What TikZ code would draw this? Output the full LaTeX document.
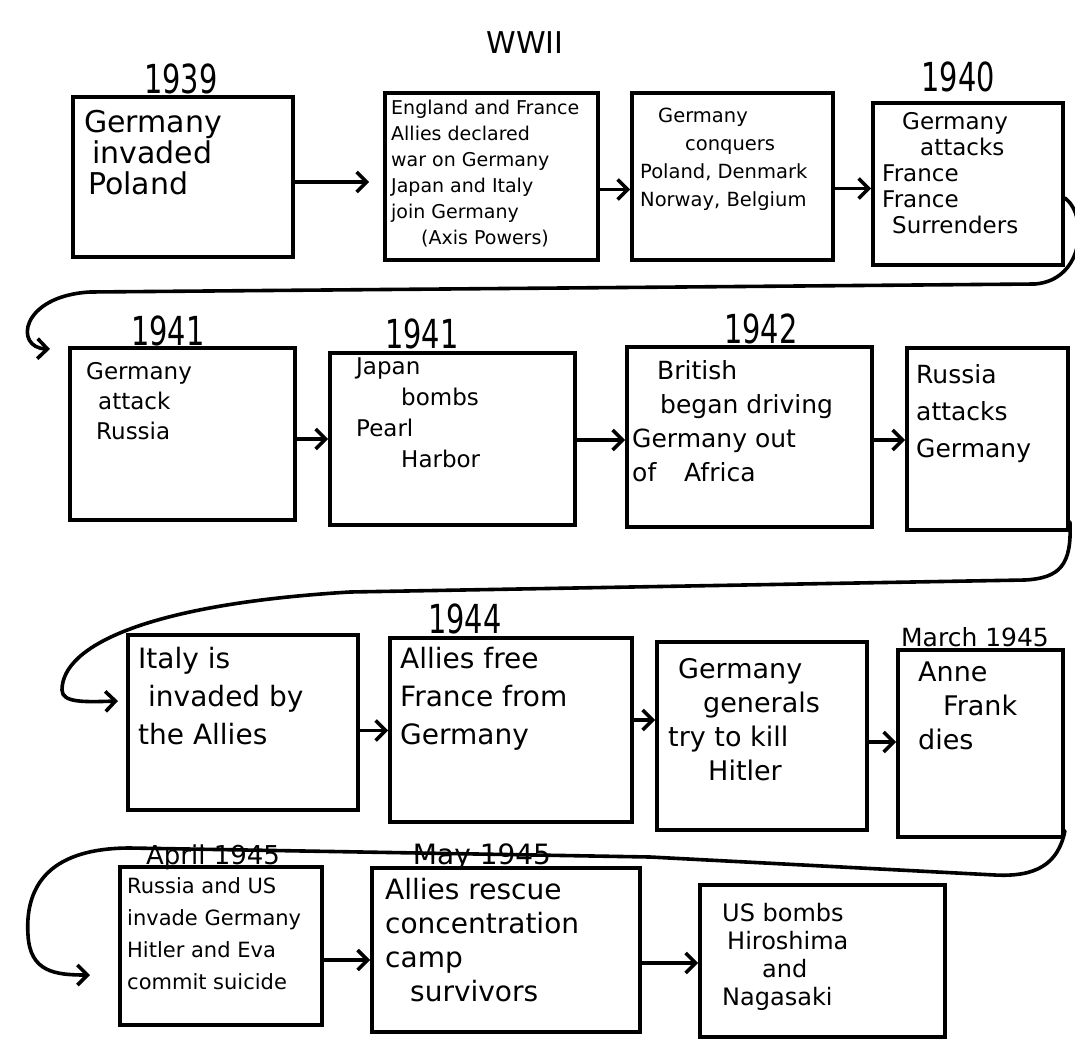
\documentclass[tikz,border=0pt]{standalone}
\usepackage{fontspec}
\setmainfont{DejaVu Sans}
\usetikzlibrary{arrows.meta}
\begin{document}
\begin{tikzpicture}[x=1pt,y=-1pt,
  event/.style={draw=black, line width=3.8pt, inner sep=0pt},
  note/.style={anchor=north west, align=left, inner sep=0pt},
  year/.style={anchor=base, inner sep=0pt},
  flow/.style={line width=3.6pt, line cap=round, line join=round,
               -{Straight Barb[length=10pt,width=20pt]}}]
\useasboundingbox (0,0) rectangle (1075,1044);
\fill[white] (0,0) rectangle (1075,1044);

% title
\node[year, font=\fontsize{30}{30}\selectfont] (title) at (525,53) {WWII};

% ---- event boxes ----
\node[event, minimum width=220pt, minimum height=160pt] (b1)  at (183,177)   {};
\node[event, minimum width=213pt, minimum height=167pt] (b2)  at (491.5,176.5) {};
\node[event, minimum width=201pt, minimum height=167pt] (b3)  at (732.5,176.5) {};
\node[event, minimum width=190pt, minimum height=162pt] (b4)  at (968,184)   {};
\node[event, minimum width=225pt, minimum height=172pt] (b5)  at (182.5,434) {};
\node[event, minimum width=245pt, minimum height=172pt] (b6)  at (452.5,439) {};
\node[event, minimum width=245pt, minimum height=180pt] (b7)  at (749.5,437) {};
\node[event, minimum width=161pt, minimum height=182pt] (b8)  at (987.5,439) {};
\node[event, minimum width=230pt, minimum height=175pt] (b9)  at (243,722.5) {};
\node[event, minimum width=242pt, minimum height=184pt] (b10) at (511,730)   {};
\node[event, minimum width=210pt, minimum height=188pt] (b11) at (762,736)   {};
\node[event, minimum width=165pt, minimum height=187pt] (b12) at (980.5,743.5) {};
\node[event, minimum width=202pt, minimum height=158pt] (b13) at (221,946)   {};
\node[event, minimum width=268pt, minimum height=164pt] (b14) at (506,950)   {};
\node[event, minimum width=245pt, minimum height=152pt] (b15) at (822.5,961) {};

% ---- years ----
\node[year, font=\fontsize{40}{40}\selectfont] (y1) at (181,93)  {\scalebox{0.72}[1]{1939}};
\node[year, font=\fontsize{40}{40}\selectfont] (y2) at (958,91)  {\scalebox{0.72}[1]{1940}};
\node[year, font=\fontsize{40}{40}\selectfont] (y3) at (168,345) {\scalebox{0.72}[1]{1941}};
\node[year, font=\fontsize{40}{40}\selectfont] (y4) at (422,348) {\scalebox{0.72}[1]{1941}};
\node[year, font=\fontsize{40}{40}\selectfont] (y5) at (761,343) {\scalebox{0.72}[1]{1942}};
\node[year, font=\fontsize{40}{40}\selectfont] (y6) at (465,633) {\scalebox{0.72}[1]{1944}};
\node[year, font=\fontsize{25}{25}\selectfont] (y7) at (975,646) {March 1945};
\node[year, font=\fontsize{26}{26}\selectfont] (y8) at (213,864) {April 1945};
\node[year, font=\fontsize{28}{28}\selectfont] (y9) at (482,864) {May 1945};

% ---- box texts ----
\node[note, font=\fontsize{30}{31}\selectfont] (t1) at (84,110)
  {Germany\\\hspace*{8pt}invaded\\\hspace*{4pt}Poland};
\node[note, font=\fontsize{19}{26}\selectfont] (t2) at (391,100)
  {England and France\\Allies declared\\war on Germany\\Japan and Italy\\join Germany\\\hspace*{30pt}(Axis Powers)};
\node[note, font=\fontsize{19.5}{28}\selectfont] (t3) at (640,108)
  {\hspace*{18pt}Germany\\\hspace*{45pt}conquers\\Poland, Denmark\\Norway, Belgium};
\node[note, font=\fontsize{23}{26}\selectfont] (t4) at (882,112)
  {\hspace*{20pt}Germany\\\hspace*{38pt}attacks\\France\\France\\\hspace*{10pt}Surrenders};
\node[note, font=\fontsize{23}{30}\selectfont] (t5) at (86,362)
  {Germany\\\hspace*{12pt}attack\\\hspace*{10pt}Russia};
\node[note, font=\fontsize{23}{31}\selectfont] (t6) at (356,358)
  {Japan\\\hspace*{45pt}bombs\\Pearl\\\hspace*{45pt}Harbor};
\node[note, font=\fontsize{25}{34}\selectfont] (t7) at (632,360)
  {\hspace*{25pt}British\\\hspace*{28pt}began driving\\Germany out\\of\hspace*{20pt} Africa};
\node[note, font=\fontsize{25}{37}\selectfont] (t8) at (916,364)
  {Russia\\attacks\\Germany};
\node[note, font=\fontsize{28}{38}\selectfont] (t9) at (138,647)
  {Italy is\\\hspace*{10pt}invaded by\\the Allies};
\node[note, font=\fontsize{28}{38}\selectfont] (t10) at (400,647)
  {Allies free\\France from\\Germany};
\node[note, font=\fontsize{27}{34}\selectfont] (t11) at (668,658)
  {\hspace*{10pt}Germany\\\hspace*{35pt}generals\\try to kill\\\hspace*{40pt}Hitler};
\node[note, font=\fontsize{27}{34}\selectfont] (t12) at (918,662)
  {Anne\\\hspace*{25pt}Frank\\dies};
\node[note, font=\fontsize{21}{32}\selectfont] (t13) at (127,877)
  {Russia and US\\invade Germany\\Hitler and Eva\\commit suicide};
\node[note, font=\fontsize{28}{34}\selectfont] (t14) at (385,878)
  {Allies rescue\\concentration\\camp\\\hspace*{25pt}survivors};
\node[note, font=\fontsize{24}{28}\selectfont] (t15) at (722,903)
  {US bombs\\\hspace*{5pt}Hiroshima\\\hspace*{40pt}and\\Nagasaki};

% ---- arrows between neighbouring boxes ----
\draw[flow, shorten >=14pt] ([yshift=-5pt]b1.east) -- ([yshift=-5pt]b1.east -| b2.west);
\draw[flow] ([yshift=-13pt]b2.east) -- ([yshift=-13pt]b2.east -| b3.west);
\draw[flow] ([yshift=-12pt]b3.east) -- ([yshift=-12pt]b3.east -| b4.west);
\draw[flow] ([yshift=-5pt]b5.east) -- ([yshift=-5pt]b5.east -| b6.west);
\draw[flow] ([yshift=-1pt]b6.east) -- ([yshift=-1pt]b6.east -| b7.west);
\draw[flow] ([yshift=-3pt]b7.east) -- ([yshift=-3pt]b7.east -| b8.west);
\draw[flow] ([yshift=-8pt]b9.east) -- ([yshift=-8pt]b9.east -| b10.west);
\draw[flow] ([yshift=10pt]b10.east) -- ([yshift=10pt]b10.east -| b11.west);
\draw[flow] ([yshift=-6pt]b11.east) -- ([yshift=-6pt]b11.east -| b12.west);
\draw[flow] ([yshift=-14pt]b13.east) -- ([yshift=-14pt]b13.east -| b14.west);
\draw[flow] ([yshift=-13pt]b14.east) -- ([yshift=-13pt]b14.east -| b15.west);

% ---- return lines from the end of one row to the start of the next ----
\coordinate (in5)  at (50,349);
\coordinate (in9)  at (118,701);
\coordinate (in13) at (90,975);
\draw[flow] ([yshift=-14pt]b4.east) .. controls (1088,215) and (1085,280) .. (1035,284)
  -- (90,292) .. controls (20,296) and (14,348) .. (in5);
\draw[flow] ([yshift=10pt]b8.south east) .. controls (1072,565) and (1060,578) .. (1025,580)
  -- (350,592) .. controls (150,604) and (62,645) .. (62,690)
  .. controls (62,703) and (85,702) .. (in9);
\draw[flow] ([yshift=8pt]b12.south east) .. controls (1058,865) and (1035,877) .. (995,875)
  -- (650,857) -- (130,848) .. controls (45,848) and (25,890) .. (28,935)
  .. controls (30,972) and (55,975) .. (in13);
\end{tikzpicture}
\end{document}
